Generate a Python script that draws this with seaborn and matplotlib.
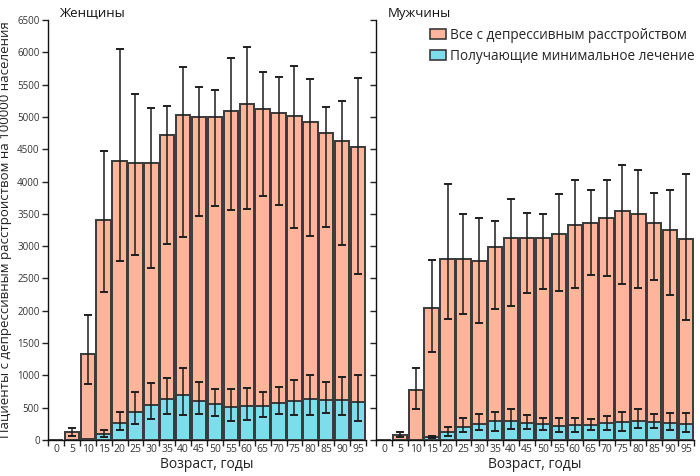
import numpy as np
import pandas as pd
import matplotlib
matplotlib.use("Agg")
import matplotlib.pyplot as plt
import seaborn as sns
from matplotlib.patches import Patch
from matplotlib.ticker import FixedLocator, NullFormatter

sns.set_theme(style="white")
plt.rcParams['font.family'] = ['Open Sans', 'DejaVu Sans']

ages = ["0", "5", "10", "15", "20", "25", "30", "35", "40", "45",
        "50", "55", "60", "65", "70", "75", "80", "85", "90", "95"]

# Women: all with depressive disorder
w_total = [0, 125, 1335, 3400, 4320, 4290, 4280, 4725, 5030, 5000,
           5000, 5095, 5205, 5115, 5055, 5020, 4915, 4745, 4630, 4535]
w_total_hi = [np.nan, 190, 1930, 4470, 6050, 5350, 5140, 5165, 5770, 5470,
              5415, 5905, 6075, 5690, 5620, 5785, 5590, 5150, 5245, 5600]
w_total_lo = [np.nan, 60, 860, 2290, 2770, 2860, 2660, 3030, 3140, 3470,
              3615, 3560, 3580, 3780, 3630, 3280, 3160, 3300, 3020, 2575]
# Women: receiving minimal treatment
w_treat = [0, 0, 10, 90, 270, 430, 535, 630, 690, 605,
           560, 510, 525, 525, 580, 600, 635, 615, 615, 585]
w_treat_hi = [np.nan, np.nan, np.nan, 150, 440, 740, 875, 960, 1110, 890,
              795, 785, 800, 740, 820, 935, 1010, 905, 970, 1010]
w_treat_lo = [np.nan, np.nan, np.nan, 45, 160, 245, 320, 410, 390, 405,
              370, 300, 310, 360, 400, 380, 390, 415, 390, 300]

# Men: all with depressive disorder
m_total = [0, 80, 770, 2045, 2805, 2795, 2770, 2980, 3130, 3120,
           3120, 3190, 3320, 3360, 3430, 3545, 3500, 3360, 3250, 3105]
m_total_hi = [np.nan, 125, 1120, 2780, 3955, 3500, 3430, 3390, 3730, 3520,
              3500, 3800, 4030, 3870, 4020, 4260, 4180, 3830, 3870, 4115]
m_total_lo = [np.nan, 42, 480, 1360, 1870, 1950, 1810, 2020, 2080, 2280,
              2340, 2305, 2360, 2560, 2540, 2420, 2360, 2470, 2250, 1850]
# Men: receiving minimal treatment
m_treat = [0, 0, 0, 40, 120, 195, 245, 290, 295, 265,
           245, 220, 225, 230, 260, 275, 295, 275, 270, 240]
m_treat_hi = [np.nan, np.nan, np.nan, 55, 200, 340, 405, 430, 480, 380,
              340, 336, 340, 325, 370, 440, 480, 410, 418, 425]
m_treat_lo = [np.nan, np.nan, np.nan, 30, 55, 124, 150, 140, 170, 170,
              160, 130, 130, 160, 155, 145, 180, 190, 155, 120]

C_TOTAL = "#FFB59C"
C_TREAT = "#7DDDEA"
C_EDGE = "#3a3a3a"

fig = plt.figure(figsize=(7.0, 4.76), dpi=100)
ax_w = fig.add_axes([48 / 700, 1 - 440 / 476, 318 / 700, 420 / 476])
ax_m = fig.add_axes([376 / 700, 1 - 440 / 476, 318 / 700, 420 / 476])


def draw(ax, total, thi, tlo, treat, rhi, rlo, show_ylabels):
    df_t = pd.DataFrame({"age": ages, "val": total})
    df_r = pd.DataFrame({"age": ages, "val": treat})
    sns.barplot(data=df_t, x="age", y="val", order=ages, color=C_TOTAL,
                saturation=1, width=0.9, edgecolor=C_EDGE, linewidth=1.4,
                errorbar=None, ax=ax)
    xs = np.arange(len(ages))
    t = np.array(total, float)
    ax.errorbar(xs, t, yerr=[t - np.array(tlo), np.array(thi) - t],
                fmt="none", ecolor="#1e1e1e", elinewidth=1.1, capsize=3,
                capthick=1.4, zorder=3)
    sns.barplot(data=df_r, x="age", y="val", order=ages, color=C_TREAT,
                saturation=1, width=0.9, edgecolor=C_EDGE, linewidth=1.4,
                errorbar=None, ax=ax)
    for p in ax.patches[len(ages):]:
        p.set_zorder(4)
    r = np.array(treat, float)
    ax.errorbar(xs, r, yerr=[r - np.array(rlo), np.array(rhi) - r],
                fmt="none", ecolor="#1e1e1e", elinewidth=1.1, capsize=3,
                capthick=1.4, zorder=5)

    ax.set_xlim(-0.5, len(ages) - 0.5)
    ax.set_ylim(0, 6500)
    ax.set_yticks(np.arange(0, 6501, 500))
    if show_ylabels:
        ax.set_yticklabels([str(v) for v in range(0, 6501, 500)])
    else:
        ax.set_yticklabels([])
    ax.tick_params(axis="y", length=4, width=1, color="#222222",
                   labelsize=7, labelcolor="#333333", pad=2, left=True)
    # boundary ticks (major) and centered labels (minor)
    ax.xaxis.set_major_locator(FixedLocator(np.arange(-0.5, len(ages), 1)))
    ax.xaxis.set_major_formatter(NullFormatter())
    ax.set_xticks(xs, minor=True)
    ax.set_xticklabels(ages, minor=True)
    ax.tick_params(axis="x", which="major", length=4, width=1,
                   color="#222222", bottom=True)
    ax.tick_params(axis="x", which="minor", length=0, labelsize=7.5,
                   labelcolor="#333333", pad=3)
    for s in ["top", "right"]:
        ax.spines[s].set_visible(False)
    for s in ["left", "bottom"]:
        ax.spines[s].set_color("#111111")
        ax.spines[s].set_linewidth(1.0)
    ax.set_xlabel("Возраст, годы", fontsize=10, color="#222222", labelpad=1)
    ax.set_ylabel("")


draw(ax_w, w_total, w_total_hi, w_total_lo, w_treat, w_treat_hi, w_treat_lo,
     True)
draw(ax_m, m_total, m_total_hi, m_total_lo, m_treat, m_treat_hi, m_treat_lo,
     False)

fig.text(59 / 700, 1 - 13 / 476, "Женщины", fontsize=9.5, color="#111111",
         ha="left", va="center")
fig.text(388 / 700, 1 - 13 / 476, "Мужчины", fontsize=9.5, color="#111111",
         ha="left", va="center")

ax_w.set_ylabel("Пациенты с депрессивным расстройством на 100000 населения",
                fontsize=9.5, color="#222222", labelpad=4)

handles = [Patch(facecolor=C_TOTAL, edgecolor=C_EDGE, linewidth=1.2),
           Patch(facecolor=C_TREAT, edgecolor=C_EDGE, linewidth=1.2)]
fig.legend(handles, ["Все с депрессивным расстройством",
                     "Получающие минимальное лечение"],
           loc="upper left", bbox_to_anchor=(430 / 700, 1 - 28 / 476),
           frameon=False, fontsize=9.8, handlelength=1.2, handleheight=0.75,
           handletextpad=0.3, labelspacing=0.42, borderpad=0,
           borderaxespad=0)

fig.savefig("out.png", dpi=100)
